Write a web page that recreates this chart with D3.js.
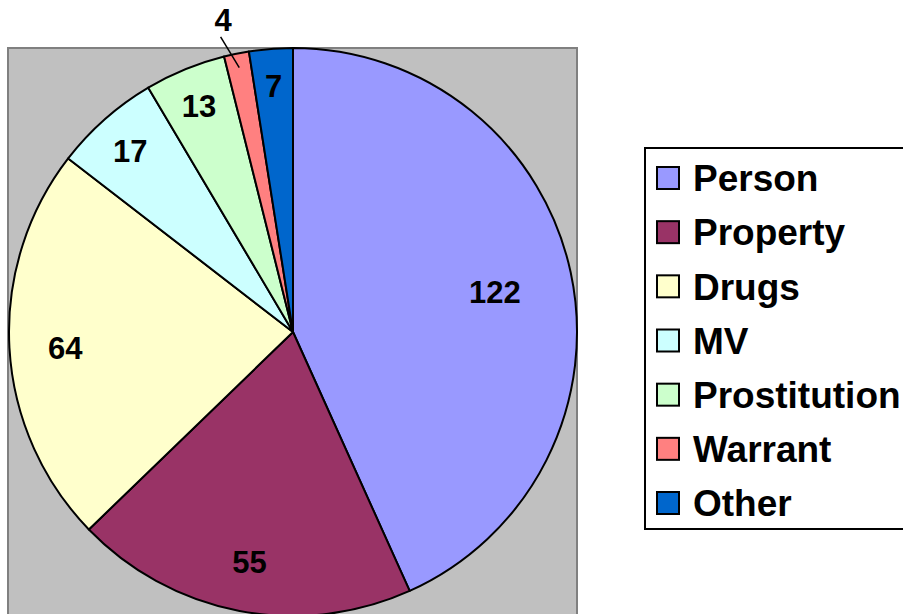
<!DOCTYPE html>
<html>
<head>
<meta charset="utf-8">
<script src="https://cdn.jsdelivr.net/npm/d3@7/dist/d3.min.js"></script>
<style>
  html, body { margin: 0; padding: 0; background: #ffffff; }
  svg { display: block; }
  text { font-family: "Liberation Sans", Arial, sans-serif; font-weight: bold; }
</style>
</head>
<body>
<svg id="chart" width="903" height="614"></svg>
<script>
const categories = ["Person", "Property", "Drugs", "MV", "Prostitution", "Warrant", "Other"];
const values = [122, 55, 64, 17, 13, 4, 7];
const colors = ["#9999FF", "#993366", "#FFFFCC", "#CCFFFF", "#CCFFCC", "#FF8080", "#0066CC"];

const W = 903, H = 614;
const svg = d3.select("#chart");

// plot area
const plot = { x: 8, y: 48, w: 569, h: 600 };
svg.append("rect")
  .attr("x", plot.x).attr("y", plot.y)
  .attr("width", plot.w).attr("height", plot.h)
  .attr("fill", "#C0C0C0")
  .attr("stroke", "#808080").attr("stroke-width", 2);

const cx = 293, cy = 332, r = 284;
const total = d3.sum(values);
const data = categories.map((c, i) => ({ name: c, value: values[i], color: colors[i] }));

const pie = d3.pie().sort(null).value(d => d.value).startAngle(0).endAngle(2 * Math.PI);
const arcs = pie(data);
const arc = d3.arc().innerRadius(0).outerRadius(r);

const g = svg.append("g").attr("transform", `translate(${cx},${cy})`);
g.selectAll("path.slice").data(arcs).enter().append("path")
  .attr("class", "slice")
  .attr("d", arc)
  .attr("fill", d => d.data.color)
  .attr("stroke", "#000").attr("stroke-width", 2)
  .attr("stroke-linejoin", "round");

// labels
const pt = (a, rad) => [rad * Math.sin(a), -rad * Math.cos(a)];
arcs.forEach(d => {
  const share = d.data.value / total;
  const mid = (d.startAngle + d.endAngle) / 2;
  if (share < 0.02) {
    const p1 = pt(mid, r * 0.95);
    const p2 = pt(mid - 0.04, r * 1.07);
    const p3 = pt(mid - 0.02, r * 1.125);
    g.append("line")
      .attr("x1", p1[0]).attr("y1", p1[1])
      .attr("x2", p2[0]).attr("y2", p2[1])
      .attr("stroke", "#000").attr("stroke-width", 1.5);
    g.append("text")
      .attr("x", p3[0]).attr("y", p3[1])
      .attr("text-anchor", "middle").attr("dy", "0.36em")
      .attr("font-size", 31).attr("fill", "#000")
      .text(d.data.value);
  } else {
    const lr = r * (0.887 - 0.37 * share);
    const p = pt(mid, lr);
    g.append("text")
      .attr("x", p[0]).attr("y", p[1])
      .attr("text-anchor", "middle").attr("dy", "0.45em")
      .attr("font-size", 31).attr("fill", "#000")
      .text(d.data.value);
  }
});

// legend
const lg = svg.append("g");
lg.append("rect")
  .attr("x", 645).attr("y", 148)
  .attr("width", 300).attr("height", 381)
  .attr("fill", "#fff").attr("stroke", "#000").attr("stroke-width", 2);

const ly = d3.scalePoint().domain(categories).range([178, 503]);
const items = lg.selectAll("g.item").data(data).enter().append("g")
  .attr("class", "item")
  .attr("transform", d => `translate(0,${ly(d.name)})`);
items.append("rect")
  .attr("x", 657).attr("y", -11)
  .attr("width", 22).attr("height", 22)
  .attr("fill", d => d.color)
  .attr("stroke", "#000").attr("stroke-width", 2);
items.append("text")
  .attr("x", 693).attr("y", 0).attr("dy", "0.36em")
  .attr("font-size", 37).attr("fill", "#000")
  .text(d => d.name);
</script>
</body>
</html>
